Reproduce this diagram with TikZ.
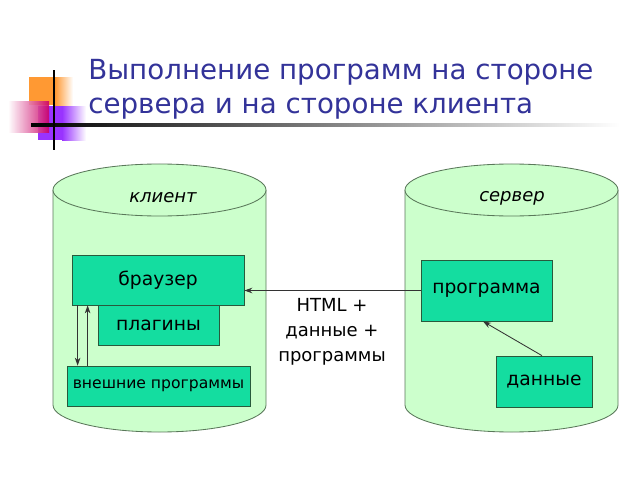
\documentclass[tikz,border=0pt]{standalone}
\usepackage{fontspec}
\setmainfont{DejaVu Sans}
\usetikzlibrary{arrows.meta}
\definecolor{titleblue}{RGB}{51,51,153}
\definecolor{drumfill}{RGB}{204,255,204}
\definecolor{drumline}{RGB}{90,120,90}
\definecolor{boxfill}{RGB}{20,221,160}
\definecolor{boxline}{RGB}{40,90,60}
\definecolor{decoorange}{RGB}{255,153,51}
\definecolor{decopink}{RGB}{204,0,102}
\definecolor{decopurple}{RGB}{153,51,255}

\begin{document}
\begin{tikzpicture}[x=0.025cm, y=-0.025cm, >={Stealth[length=2mm, width=1.4mm]}, line width=0.5pt,
  drum/.style={fill=drumfill, draw=drumline, line width=0.6pt},
  part/.style={draw=boxline, fill=boxfill, inner sep=0pt, font=\fontsize{13.3}{16}\selectfont},
  flow/.style={->, line width=0.6pt, draw=black!80}]
  \useasboundingbox (0,0) rectangle (640,480);
  % corner decoration
  \fill[decoorange] (29,77) rectangle (55,105);
  \shade[left color=decoorange, right color=white] (55,77) rectangle (73,105);
  \fill[decopurple] (38,106) rectangle (62,140);
  \shade[left color=decopurple, right color=white] (62,106) rectangle (86,140);
  \shade[left color=white, right color=decopink, opacity=0.9] (8,101) rectangle (49,132);
  \shade[left color=black, middle color=black, right color=white] (31,123.5) rectangle (620,126);
  \draw[line width=1.5pt] (54,70) -- (54,150);
  \node[anchor=base west, align=left, text=titleblue, inner sep=0pt,
        font=\fontsize{19.7}{23.5}\selectfont] (title) at (88,113)
        {Выполнение программ на стороне\\сервера и на стороне клиента};
  % drums
  \foreach \cx in {159.5, 511.5} {
    \draw[drum] (\cx-106.5,190) -- (\cx-106.5,405)
      arc[start angle=180, end angle=360, x radius=2.6625cm, y radius=0.675cm] -- (\cx+106.5,190);
    \draw[drum] (\cx,190) ellipse [x radius=2.6625cm, y radius=0.65cm];
  }
  \node[font=\itshape\fontsize{12.8}{15}\selectfont] (client) at (163,198) {клиент};
  \node[font=\itshape\fontsize{12.8}{15}\selectfont] (server) at (512,198) {сервер};
  % client side
  \node[part, minimum width=3.025cm, minimum height=1cm] (plugins) at (158.5,325) {плагины};
  \node[part, minimum width=4.3cm, minimum height=1.25cm] (browser) at (158,280) {браузер};
  \node[part, minimum width=4.575cm, minimum height=1cm, font=\fontsize{11.1}{13}\selectfont]
        (external) at (158.5,386) {внешние программы};
  % server side
  \node[part, minimum width=3.275cm, minimum height=1.525cm] (program) at (486.5,290.5) {программа};
  \node[part, minimum width=2.4cm, minimum height=1.275cm] (data) at (544,381.5) {данные};
  \node[align=center, font=\fontsize{12.8}{17.8}\selectfont] (payload) at (332,332)
        {HTML +\\данные +\\программы};
  \draw[flow] (program.west) -- (program.west -| browser.east);
  \draw[flow] ([xshift=0.15cm]browser.south west) -- ([xshift=0.15cm]browser.south west |- external.north);
  \draw[flow] ([xshift=0.4cm]browser.south west |- external.north) -- ([xshift=0.4cm]browser.south west);
  \draw[flow] ([xshift=-0.05cm]data.north) -- ([xshift=-0.0875cm]program.south);
\end{tikzpicture}
\end{document}
